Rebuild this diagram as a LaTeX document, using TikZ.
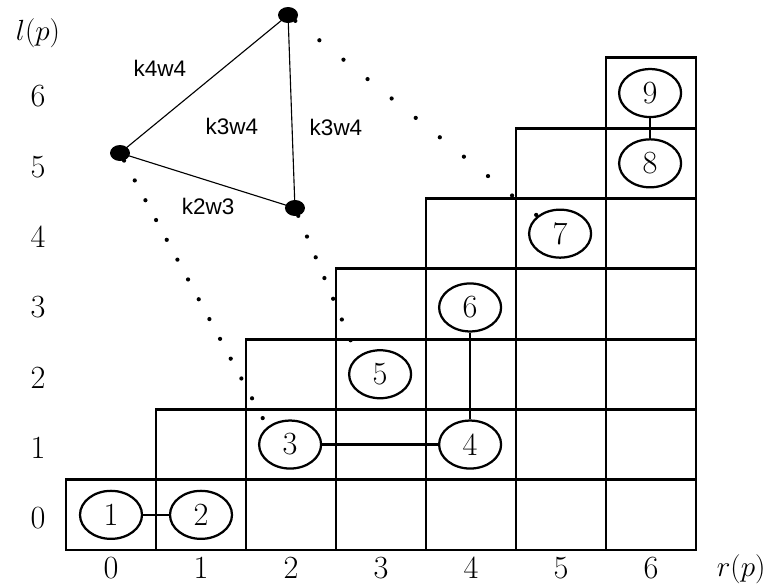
\documentclass[tikz,border=0pt]{standalone}
\usepackage{fontspec}
\newfontfamily\labelfont{Liberation Sans}
\usetikzlibrary{shapes}
\tikzstyle{cell} = [draw, line width=2pt]
\tikzstyle{pnode} = [draw, ellipse, line width=1.6pt, minimum width=1.55cm, minimum height=1.2cm, inner sep=0pt, font=\fontsize{23}{25}\selectfont]
\tikzstyle{link} = [draw, line width=1.6pt]
\tikzstyle{vertex} = [fill, ellipse, minimum width=0.5cm, minimum height=0.4cm, inner sep=0pt]
\tikzstyle{side} = [draw, line width=0.8pt]
\tikzstyle{dotline} = [draw, line width=3pt, line cap=round, dash pattern=on 0pt off 16pt]
\tikzstyle{axlabel} = [font=\fontsize{23}{25}\selectfont]
\tikzstyle{axname} = [font=\fontsize{20}{22}\selectfont, inner sep=1pt]
\tikzstyle{wlabel} = [font=\labelfont\fontsize{16}{18}\selectfont]

\begin{document}
\begin{tikzpicture}[x=2.25cm, y=1.7575cm]
\useasboundingbox (-0.7333,-0.4979) rectangle (7.8444,7.8236);

% staircase of cells
\foreach \r in {0,...,6}
  \foreach \c in {\r,...,6}
    \draw [cell] (\c,\r) rectangle ++(1,1);

% axes
\foreach \i in {0,...,6} {
  \node [axlabel] at (-0.311, \i+0.45) (l\i) {\i};
  \node [axlabel] at (\i+0.5, -0.256) (r\i) {\i};
}
\node [axname] at (-0.311, 7.35) (lp) {\(l(p)\)};
\node [axname, anchor=east] at (7.79, -0.27) (rp) {\(r(p)\)};

% points
\node [pnode] at (0.5, 0.5) (p1) {1};
\node [pnode] at (1.5, 0.5) (p2) {2};
\node [pnode] at (2.49, 1.5) (p3) {3};
\node [pnode] at (4.49, 1.5) (p4) {4};
\node [pnode] at (3.49, 2.5) (p5) {5};
\node [pnode] at (4.49, 3.45) (p6) {6};
\node [pnode] at (5.49, 4.5) (p7) {7};
\node [pnode] at (6.49, 5.5) (p8) {8};
\node [pnode] at (6.49, 6.5) (p9) {9};

\path [link] (p1) -- (p2);
\path [link] (p3) -- (p4);
\path [link] (p4) -- (p6);
\path [link] (p8) -- (p9);

% triangle
\node [vertex] at (2.467, 7.61) (vtop) {};
\node [vertex] at (0.6, 5.647) (vleft) {};
\node [vertex] at (2.544, 4.865) (vright) {};

\path [side] (vtop.center) -- (vleft.center) -- (vright.center) -- cycle;

\node [wlabel] at (1.044, 6.856) (w1) {k4w4};
\node [wlabel] at (1.844, 6.031) (w2) {k3w4};
\node [wlabel] at (3.0, 6.017) (w3) {k3w4};
\node [wlabel] at (1.578, 4.893) (w4) {k2w3};

\path [dotline] (vleft) -- (p3.north west);
\path [dotline] (vright) -- (p5.north west);
\path [dotline, dash pattern=on 0pt off 22pt] (vtop) -- (p7.north west);
\end{tikzpicture}
\end{document}
